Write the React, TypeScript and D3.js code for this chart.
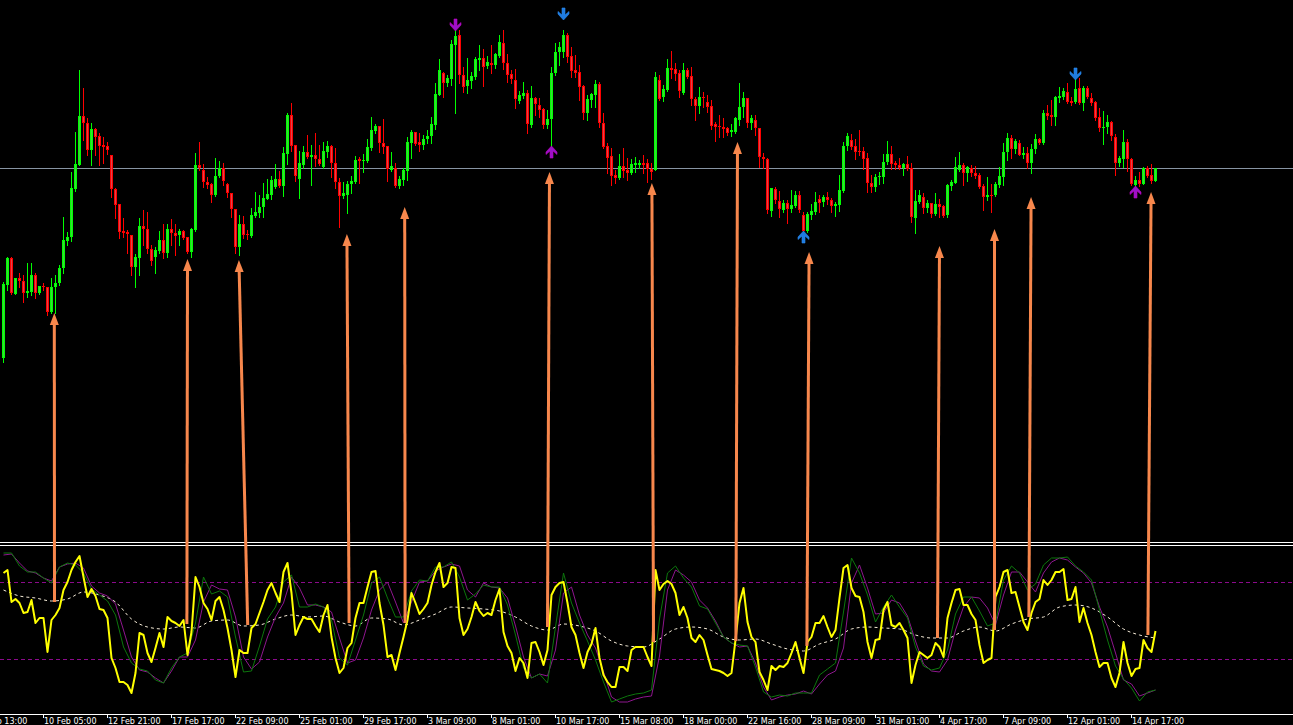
import { useRef, useEffect } from 'react'
import * as d3 from 'd3'

const W = 1293
const H = 725

// H4 candles (price in points)
const opens = [
  42, 115, 142, 106, 122, 119, 107, 108, 125, 107,
  114, 113, 88, 113, 117, 132, 159, 163, 211, 235,
  284, 277, 250, 271, 264, 255, 254, 245, 211, 196,
  169, 168, 165, 133, 142, 174, 171, 151, 143, 149,
  160, 147, 171, 167, 165, 169, 163, 148, 170, 235,
  230, 218, 216, 205, 224, 232, 216, 207, 191, 153,
  176, 166, 164, 184, 187, 193, 201, 205, 213, 221,
  214, 246, 285, 255, 221, 235, 248, 243, 245, 241,
  233, 248, 254, 237, 218, 204, 205, 216, 218, 241,
  239, 239, 252, 269, 274, 257, 254, 230, 232, 214,
  220, 229, 257, 268, 258, 255, 261, 264, 275, 305,
  327, 317, 321, 355, 365, 325, 314, 319, 323, 340,
  342, 334, 337, 335, 344, 357, 337, 326, 320, 299,
  304, 307, 275, 302, 295, 291, 275, 281, 327, 348,
  348, 365, 344, 330, 328, 314, 287, 300, 305, 316,
  277, 254, 244, 225, 222, 234, 230, 227, 235, 235,
  237, 237, 231, 230, 320, 303, 310, 332, 331, 327,
  307, 330, 324, 301, 294, 303, 298, 294, 276, 274,
  273, 272, 268, 268, 280, 293, 302, 277, 280, 272,
  243, 241, 189, 211, 199, 190, 197, 191, 194, 205,
  185, 169, 185, 188, 201, 198, 203, 200, 194, 195,
  209, 254, 260, 254, 249, 249, 242, 217, 213, 223,
  223, 238, 246, 237, 235, 232, 236, 232, 182, 198,
  203, 192, 197, 186, 196, 194, 185, 214, 217, 230,
  235, 227, 232, 227, 225, 214, 203, 205, 205, 215,
  223, 248, 262, 251, 257, 245, 247, 237, 251, 261,
  257, 287, 285, 283, 302, 303, 308, 299, 298, 312,
  297, 312, 302, 298, 283, 272, 273, 278, 263, 237,
  241, 258, 241, 215, 220, 216, 232, 225, 219,
]
const highs = [
  118, 143, 143, 122, 127, 125, 137, 137, 127, 114,
  117, 113, 122, 125, 135, 183, 168, 228, 268, 330,
  312, 282, 277, 272, 267, 263, 258, 245, 212, 196,
  182, 170, 165, 146, 182, 190, 188, 155, 153, 169,
  176, 176, 181, 176, 171, 170, 163, 172, 247, 258,
  236, 223, 217, 242, 239, 237, 217, 207, 191, 185,
  184, 170, 192, 208, 205, 217, 221, 224, 236, 229,
  253, 287, 297, 255, 249, 254, 265, 255, 267, 255,
  258, 259, 255, 252, 222, 218, 219, 224, 244, 243,
  246, 261, 283, 276, 274, 281, 254, 248, 237, 224,
  232, 263, 270, 268, 267, 265, 270, 283, 317, 341,
  328, 325, 360, 375, 370, 333, 342, 328, 343, 355,
  351, 344, 355, 347, 365, 370, 346, 330, 331, 309,
  318, 310, 314, 303, 302, 292, 290, 333, 357, 358,
  370, 367, 353, 345, 335, 315, 305, 307, 320, 318,
  287, 257, 252, 230, 246, 252, 242, 241, 243, 240,
  245, 241, 237, 328, 325, 315, 341, 349, 337, 330,
  337, 332, 333, 303, 313, 308, 305, 300, 278, 285,
  282, 273, 276, 283, 317, 308, 302, 285, 285, 272,
  247, 242, 212, 213, 209, 200, 200, 210, 209, 209,
  188, 188, 196, 208, 205, 205, 208, 202, 198, 225,
  258, 267, 266, 261, 270, 253, 247, 225, 226, 228,
  246, 259, 254, 239, 242, 237, 244, 237, 210, 210,
  207, 200, 197, 207, 201, 195, 216, 220, 243, 248,
  237, 234, 235, 234, 227, 216, 223, 216, 218, 233,
  257, 267, 265, 261, 260, 253, 253, 256, 266, 262,
  290, 295, 300, 304, 313, 312, 317, 303, 323, 322,
  314, 314, 307, 299, 292, 289, 285, 279, 266, 244,
  270, 261, 242, 224, 228, 233, 234, 236, 232,
]
const lows = [
  38, 110, 106, 106, 113, 98, 103, 105, 102, 106,
  110, 85, 87, 87, 115, 127, 155, 159, 209, 235,
  260, 245, 235, 245, 235, 237, 246, 203, 182, 162,
  163, 147, 125, 113, 125, 155, 147, 135, 127, 147,
  142, 143, 155, 145, 155, 161, 147, 143, 169, 230,
  213, 212, 198, 204, 223, 215, 203, 183, 147, 145,
  162, 161, 163, 183, 183, 183, 201, 201, 212, 213,
  204, 236, 249, 219, 202, 232, 242, 215, 234, 235,
  232, 243, 223, 212, 173, 202, 187, 207, 217, 217,
  228, 238, 250, 267, 248, 247, 219, 229, 213, 212,
  215, 220, 242, 255, 249, 251, 257, 257, 271, 305,
  303, 314, 315, 287, 317, 308, 307, 312, 321, 330,
  314, 332, 327, 332, 343, 331, 318, 317, 292, 297,
  302, 267, 273, 285, 283, 272, 272, 247, 325, 335,
  343, 338, 323, 323, 300, 281, 280, 293, 293, 273,
  252, 227, 215, 217, 221, 223, 220, 226, 228, 232,
  227, 218, 221, 230, 300, 299, 309, 322, 320, 303,
  306, 322, 295, 280, 287, 293, 288, 271, 259, 263,
  263, 265, 264, 267, 275, 283, 273, 271, 265, 233,
  232, 187, 184, 197, 183, 188, 177, 188, 193, 188,
  167, 168, 181, 186, 188, 194, 196, 188, 184, 189,
  208, 250, 251, 241, 245, 231, 208, 208, 209, 216,
  217, 236, 231, 231, 231, 225, 230, 178, 167, 197,
  187, 188, 183, 185, 183, 183, 183, 210, 217, 229,
  215, 219, 224, 222, 212, 190, 200, 188, 204, 213,
  215, 240, 242, 247, 245, 242, 232, 227, 247, 256,
  256, 281, 275, 275, 298, 301, 297, 295, 297, 296,
  290, 302, 295, 280, 269, 256, 267, 260, 225, 234,
  233, 229, 215, 212, 214, 216, 223, 217, 219,
]
const closes = [
  116, 142, 107, 122, 119, 107, 109, 125, 107, 114,
  113, 88, 113, 117, 132, 160, 163, 212, 236, 284,
  277, 250, 271, 263, 254, 253, 250, 211, 195, 168,
  167, 166, 133, 143, 174, 171, 151, 139, 150, 160,
  147, 171, 167, 164, 169, 162, 148, 171, 235, 232,
  218, 215, 205, 224, 232, 219, 207, 191, 153, 176,
  165, 165, 185, 188, 193, 202, 206, 220, 221, 214,
  247, 285, 254, 224, 237, 248, 243, 245, 241, 236,
  249, 254, 237, 218, 204, 207, 216, 219, 240, 239,
  240, 253, 270, 274, 257, 253, 231, 234, 214, 221,
  230, 258, 268, 256, 255, 261, 264, 276, 306, 330,
  317, 322, 356, 364, 325, 313, 320, 324, 341, 342,
  333, 338, 335, 346, 358, 337, 325, 321, 301, 305,
  307, 276, 302, 296, 290, 275, 281, 327, 348, 353,
  365, 343, 329, 327, 313, 287, 301, 306, 316, 277,
  253, 242, 224, 222, 234, 229, 227, 236, 237, 237,
  235, 231, 228, 323, 301, 311, 332, 330, 326, 309,
  330, 323, 301, 294, 303, 302, 293, 274, 273, 273,
  271, 267, 270, 282, 293, 302, 277, 282, 272, 243,
  241, 190, 212, 200, 191, 197, 191, 195, 205, 190,
  169, 186, 189, 198, 197, 203, 200, 194, 196, 210,
  254, 264, 253, 248, 248, 241, 217, 213, 223, 224,
  238, 246, 236, 235, 232, 236, 231, 183, 199, 205,
  192, 197, 186, 196, 193, 184, 215, 218, 233, 235,
  227, 233, 227, 224, 213, 203, 205, 204, 216, 224,
  248, 262, 251, 259, 245, 247, 237, 251, 261, 257,
  287, 284, 283, 303, 304, 309, 298, 297, 311, 297,
  312, 303, 297, 282, 272, 273, 278, 264, 237, 242,
  258, 241, 216, 220, 216, 232, 224, 219, 232,
]

const priceLevel = 231.5

// oscillator: main line (every bar)
const oscMain = [
  47, 50, 18, 21, 17, 7, 8, 20, -3, 2,
  2, -32, 0, 5, 12, 30, 38, 50, 58, 64,
  43, 23, 31, 24, 11, 10, 2, -38, -48, -62,
  -62, -65, -73, -53, -13, -15, -33, -42, -28, -13,
  -27, 3, -1, -3, -6, 0, -35, -12, 43, 33,
  17, 11, 0, 19, 23, 10, -8, -30, -57, -30,
  -33, -33, -8, -4, 7, 18, 30, 37, 27, 18,
  48, 57, 27, -15, -5, 3, 1, 1, -6, -12,
  5, 15, -17, -38, -53, -48, -28, -23, 2, 17,
  17, 33, 48, 49, 17, -5, -37, -35, -50, -33,
  -17, 0, 27, 17, 6, 11, 17, 35, 48, 57,
  33, 37, 53, 52, 2, -15, -9, 3, 18, 9,
  4, 7, 5, 20, 31, -12, -26, -33, -51, -38,
  -43, -58, -23, -22, -32, -45, -30, 25, 33, 37,
  38, 17, -7, -15, -33, -48, -32, -24, -8, -38,
  -55, -62, -67, -67, -47, -47, -51, -30, -27, -27,
  -27, -37, -46, 50, 30, 36, 39, 36, 27, 5,
  13, 2, -18, -22, -15, -20, -35, -49, -50, -51,
  -53, -56, -53, -20, 17, 32, -2, -17, -22, -52,
  -60, -70, -46, -50, -46, -47, -43, -33, -22, -38,
  -53, -22, -17, -3, -3, 4, -7, -17, -10, 22,
  52, 55, 32, 24, 23, 8, -22, -38, -20, -19,
  10, 18, -5, -7, -3, -10, -18, -63, -45, -32,
  -35, -38, -35, -23, -27, -37, 2, 17, 30, 31,
  15, 15, 6, 0, -25, -43, -40, -38, 23, 33,
  48, 50, 27, 28, 13, -2, -10, 7, 18, 21,
  40, 35, 40, 48, 48, 51, 20, 21, 33, -2,
  12, -3, -15, -32, -47, -43, -43, -58, -67, -53,
  -22, -43, -56, -49, -48, -20, -28, -32, -11,
]
// signal lines, read every 2nd bar
const oscFast = [
  67, 67, 54, 48, 48, 42, 37, 53, 57, 55,
  47, 31, 25, 19, 5, -27, -43, -49, -51, -60,
  -63, -48, -37, -33, -3, 43, 26, 29, 23, -17,
  -52, -51, -26, 1, 13, 38, 45, 13, 13, 16,
  13, 0, -38, -45, -20, 5, 37, 43, 22, 3,
  3, 29, 40, 39, 53, 53, 58, 43, 20, 26,
  35, 33, 33, 15, -15, -48, -58, -54, -63, -7,
  47, 17, -3, -21, -40, -62, -82, -79, -76, -74,
  -73, -70, 1, 47, 54, 42, 33, 14, 11, -3,
  -17, -23, -25, -26, -47, -72, -77, -75, -76, -73,
  -73, -73, -55, -49, -43, 8, 62, 47, 25, -2,
  13, 25, 13, 2, -27, -46, -50, -48, -30, 6,
  23, 23, 9, -6, -3, 40, 54, 47, 30, 36,
  55, 62, 62, 63, 54, 48, 40, 10, -20, -46,
  -59, -68, -81, -72, -70,
]
const oscSlow = [
  65, 66, 57, 49, 47, 42, 39, 53, 56, 57,
  52, 34, 27, 24, 16, -10, -37, -50, -52, -58,
  -63, -51, -37, -37, -20, 18, 35, 31, 30, 3,
  -37, -49, -42, -17, 3, 17, 43, 32, 15, 15,
  13, 8, -18, -43, -40, -18, 10, 30, 38, 18,
  -3, 18, 38, 39, 49, 53, 56, 54, 30, 23,
  37, 33, 32, 22, -6, -37, -58, -54, -56, -30,
  27, 33, 5, -15, -28, -52, -77, -82, -82, -79,
  -77, -76, -36, 30, 50, 45, 38, 20, 12, -1,
  -17, -23, -27, -26, -43, -67, -80, -77, -75, -74,
  -71, -74, -64, -55, -51, -28, 37, 55, 32, 6,
  7, 20, 17, 4, -21, -44, -51, -52, -40, -10,
  13, 23, 22, 12, -5, 25, 48, 48, 38, 28,
  47, 58, 62, 60, 53, 47, 37, 13, -7, -33,
  -60, -64, -76, -73, -70,
]
// long average, read every 4th bar
const oscTrend = [
  30, 24, 22, 19, 21, 28, 25, 18, 1, -7,
  -9, -7, -8, -1, 0, -6, -5, 1, 5, 3,
  4, -2, -6, 2, 1, -5, 0, 6, 13, 12,
  11, 9, 3, -6, -10, -4, -6, -11, -21, -26,
  -27, -19, -9, -7, -9, -17, -20, -19, -24, -29,
  -31, -24, -19, -9, -7, -8, -9, -15, -18, -18,
  -11, -7, -11, -4, 1, 3, 13, 15, 12, 3,
  -9, -15, -18,
]
const oscLevels = [37.5, -39.5]

const tickBars = [-6, 10, 26, 42, 58, 74, 90, 106, 122, 138, 154, 170, 186, 202, 218, 234, 250, 266, 282]
const tickLabels = [
  '9 Feb 13:00', '10 Feb 05:00', '12 Feb 21:00', '17 Feb 17:00', '22 Feb 09:00', '25 Feb 01:00',
  '29 Feb 17:00', '3 Mar 09:00', '8 Mar 01:00', '10 Mar 17:00', '15 Mar 08:00', '18 Mar 00:00',
  '22 Mar 16:00', '28 Mar 09:00', '31 Mar 01:00', '4 Apr 17:00', '7 Apr 09:00', '12 Apr 01:00', '14 Apr 17:00',
]

// arrow signals on price
const signalBars = [113, 137, 140, 200, 268, 283]
const signalPrices = [369, 254, 380, 169, 320, 214]
const signalDirs = ['down', 'up', 'down', 'up', 'down', 'up']
const signalSources = ['a', 'a', 'b', 'b', 'b', 'a']

// divergence arrows: oscillator point -> price point
const divOscBars = [12.75, 45.85, 61.05, 86.4, 100.4, 136, 162.5, 183.1, 200.85, 233.5, 247.75, 256.35, 286.1]
const divOscValues = [18, -4, -5, -3, -3, -7, -22, -21, -26, -18, -10, 3, -15]
const divPriceBars = [12.7, 46, 58.85, 85.85, 100.3, 136.5, 162.1, 183.5, 201.4, 234, 247.75, 256.9, 286.9]
const divPrices = [87, 141, 140, 166, 193, 228, 217, 258, 148, 154, 171, 203, 208]

export default function App() {
  const svgRef = useRef<SVGSVGElement>(null)

  useEffect(() => {
    const svg = d3.select(svgRef.current)
    svg.selectAll('*').remove()

    const x = d3.scaleLinear().domain([0, 288]).range([3.5, 1155.5])
    const yPrice = d3.scaleLinear().domain([0, 400]).range([400, 0])
    const yOsc = d3.scaleLinear().domain([-100, 100]).range([720, 520])

    svg.append('rect').attr('width', W).attr('height', H).attr('fill', '#000')

    // horizontal price level
    svg.append('rect')
      .attr('x', 0).attr('y', Math.floor(yPrice(priceLevel)))
      .attr('width', W).attr('height', 1)
      .attr('fill', '#8794a3')

    // Candles
    const cg = svg.append('g').attr('shape-rendering', 'crispEdges')
    opens.forEach((o, i) => {
      const c = closes[i]
      const up = c >= o
      const cx = Math.floor(x(i))
      const top = Math.round(yPrice(Math.max(o, c)))
      const bot = Math.round(yPrice(Math.min(o, c)))
      const hi = Math.round(yPrice(Math.max(highs[i], o, c)))
      const lo = Math.round(yPrice(Math.min(lows[i], o, c)))
      const edge = up ? '#00ff00' : '#ff0000'
      const fill = up ? '#3ed43e' : '#e2444c'
      cg.append('rect')
        .attr('x', cx).attr('y', hi)
        .attr('width', 1).attr('height', Math.max(lo - hi + 1, 1))
        .attr('fill', edge)
      if (bot - top >= 3) {
        cg.append('rect')
          .attr('x', cx - 0.5).attr('y', top + 0.5)
          .attr('width', 2).attr('height', bot - top - 1)
          .attr('fill', fill).attr('stroke', edge).attr('stroke-width', 1)
      } else {
        cg.append('rect')
          .attr('x', cx - 1).attr('y', top)
          .attr('width', 3).attr('height', Math.max(bot - top, 1))
          .attr('fill', edge)
      }
    })

    // Signal arrows
    const upArrow = 'M0,0 L5.5,6 L5.5,8.5 L1.5,5 L1.5,12 L-1.5,12 L-1.5,5 L-5.5,8.5 L-5.5,6 Z'
    signalBars.forEach((b, k) => {
      const sx = Math.floor(x(b)) + 0.5
      const sy = yPrice(signalPrices[k])
      const flip = signalDirs[k] === 'down' ? -1 : 1
      svg.append('path')
        .attr('d', upArrow)
        .attr('transform', `translate(${sx},${sy}) scale(1,${flip})`)
        .attr('fill', signalSources[k] === 'a' ? '#9a12c8' : '#1f7be0')
        .attr('stroke', signalSources[k] === 'a' ? '#c000c0' : '#2a8cf0')
        .attr('stroke-width', 0.6)
    })

    // Separator between windows
    svg.append('rect').attr('x', 0).attr('y', 542).attr('width', W).attr('height', 1).attr('fill', '#ffffff')
    svg.append('rect').attr('x', 0).attr('y', 545).attr('width', W).attr('height', 1).attr('fill', '#ffffff')

    // Oscillator levels
    oscLevels.forEach(v => {
      svg.append('line')
        .attr('x1', 0).attr('x2', W)
        .attr('y1', yOsc(v)).attr('y2', yOsc(v))
        .attr('stroke', '#8b0a8b').attr('stroke-dasharray', '4,3')
    })

    const lineLinear = d3.line<[number, number]>()
      .x(d => x(d[0]))
      .y(d => yOsc(d[1]))
    const lineSmooth = d3.line<[number, number]>()
      .x(d => x(d[0]))
      .y(d => yOsc(d[1]))
      .curve(d3.curveMonotoneX)

    svg.append('path')
      .datum(oscTrend.map((v, k) => [k * 4, v] as [number, number]))
      .attr('fill', 'none').attr('stroke', '#f6ecd8').attr('stroke-width', 1)
      .attr('stroke-dasharray', '3,3')
      .attr('d', lineSmooth)

    svg.append('path')
      .datum(oscSlow.map((v, k) => [k * 2, v] as [number, number]))
      .attr('fill', 'none').attr('stroke', '#8e168e').attr('stroke-width', 1)
      .attr('d', lineLinear)

    svg.append('path')
      .datum(oscFast.map((v, k) => [k * 2, v] as [number, number]))
      .attr('fill', 'none').attr('stroke', '#0c760c').attr('stroke-width', 1)
      .attr('d', lineLinear)

    svg.append('path')
      .datum(oscMain.map((v, i) => [i, v] as [number, number]))
      .attr('fill', 'none').attr('stroke', '#ffff00').attr('stroke-width', 2)
      .attr('stroke-linejoin', 'round')
      .attr('d', lineLinear)

    // Divergence arrows
    divOscBars.forEach((b, k) => {
      const x1 = x(b), y1 = yOsc(divOscValues[k])
      const x2 = x(divPriceBars[k]), y2 = yPrice(divPrices[k])
      const len = Math.hypot(x2 - x1, y2 - y1)
      const ux = (x2 - x1) / len, uy = (y2 - y1) / len
      const bx = x2 - ux * 12, by = y2 - uy * 12
      const nx = -uy, ny = ux
      svg.append('line')
        .attr('x1', x1).attr('y1', y1)
        .attr('x2', bx + ux).attr('y2', by + uy)
        .attr('stroke', '#f7874c').attr('stroke-width', 3)
      svg.append('path')
        .attr('d', `M${x2},${y2} L${bx + nx * 4.5},${by + ny * 4.5} L${bx - nx * 4.5},${by - ny * 4.5} Z`)
        .attr('fill', '#f7874c')
    })

    // Time axis
    svg.append('rect').attr('x', 0).attr('y', 714).attr('width', W).attr('height', 1).attr('fill', '#ffffff')
    const ag = svg.append('g')
    tickBars.forEach((b, k) => {
      const tx = Math.floor(x(b))
      ag.append('rect').attr('x', tx).attr('y', 714).attr('width', 1).attr('height', 4).attr('fill', '#ffffff')
      ag.append('text')
        .attr('x', tx + 1).attr('y', 724)
        .attr('fill', '#ffffff')
        .attr('font-family', 'DejaVu Sans, Verdana, sans-serif')
        .attr('font-size', 8)
        .text(tickLabels[k])
    })
  }, [])

  return (
    <div style={{ position: 'fixed', left: 0, top: 0, width: W, height: H, background: '#000', overflow: 'hidden' }}>
      <svg ref={svgRef} width={W} height={H} style={{ display: 'block' }} />
    </div>
  )
}
